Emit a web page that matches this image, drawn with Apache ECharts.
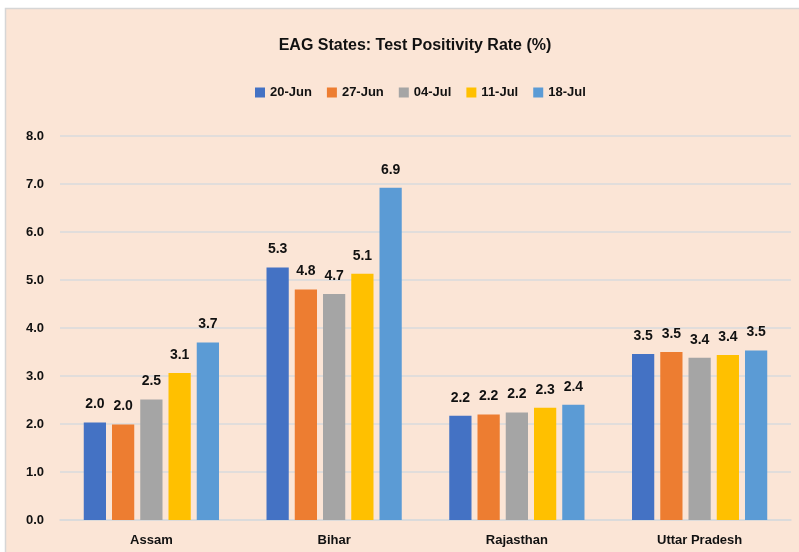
<!DOCTYPE html>
<html>
<head>
<meta charset="utf-8">
<title>EAG States: Test Positivity Rate</title>
<script src="https://cdn.jsdelivr.net/npm/echarts@6/dist/echarts.min.js"></script>
<style>
  html, body { margin: 0; padding: 0; background: #ffffff; }
  #main { width: 799px; height: 552px; }
</style>
</head>
<body>
<div id="main"></div>
<script>
// data
var states = ['Assam', 'Bihar', 'Rajasthan', 'Uttar Pradesh'];
var weeks = ['20-Jun', '27-Jun', '04-Jul', '11-Jul', '18-Jul'];
var jun20 = [2.03, 5.26, 2.17, 3.46];
var jun27 = [1.99, 4.80, 2.20, 3.50];
var jul04 = [2.51, 4.71, 2.24, 3.38];
var jul11 = [3.06, 5.13, 2.34, 3.44];
var jul18 = [3.70, 6.92, 2.40, 3.53];
var yTicks = [0, 8, 1]; // min, max, interval

var colors = ['#4472C4', '#ED7D31', '#A5A5A5', '#FFC000', '#5B9BD5'];
var font = '"Liberation Sans", Arial, sans-serif';

var chart = echarts.init(document.getElementById('main'), null, { renderer: 'canvas' });

// one bar series per week
var seriesData = [jun20, jun27, jul04, jul11, jul18];
var series = seriesData.map(function (vals, i) {
  return {
    name: weeks[i],
    type: 'bar',
    data: vals,
    barGap: '27%',
    barCategoryGap: '26%',
    itemStyle: { color: colors[i] },
    label: {
      show: true,
      position: 'top',
      distance: 11,
      color: '#111',
      fontFamily: font,
      fontWeight: 'bold',
      fontSize: 14,
      formatter: function (p) { return p.value.toFixed(1); }
    }
  };
});

var option = {
  backgroundColor: '#ffffff',
  animation: false,
  color: colors,
  graphic: [{
    type: 'rect',
    z: -10,
    silent: true,
    shape: { x: 5.5, y: 8.5, width: 800, height: 560 },
    style: { fill: '#FBE5D6', stroke: '#D6D6D6', lineWidth: 1.5 }
  }],
  title: {
    text: 'EAG States: Test Positivity Rate (%)',
    left: 410,
    textAlign: 'center',
    top: 33,
    textStyle: { fontFamily: font, fontWeight: 'bold', fontSize: 16, color: '#111' }
  },
  legend: {
    data: weeks,
    top: 81,
    left: 250,
    itemWidth: 10,
    itemHeight: 10,
    itemGap: 15,
    icon: 'rect',
    textStyle: { fontFamily: font, fontWeight: 'bold', fontSize: 13, color: '#111' }
  },
  grid: { left: 60, right: 8, top: 136, bottom: 32, containLabel: false },
  xAxis: {
    type: 'category',
    data: states,
    axisTick: { show: false },
    axisLine: { lineStyle: { color: '#D9DADC', width: 1.5 } },
    axisLabel: { margin: 14, fontFamily: font, fontWeight: 'bold', fontSize: 13, color: '#111' }
  },
  yAxis: {
    type: 'value',
    min: yTicks[0],
    max: yTicks[1],
    interval: yTicks[2],
    axisLine: { show: false },
    axisTick: { show: false },
    splitLine: { lineStyle: { color: '#D9DADC', width: 1.5 } },
    axisLabel: {
      margin: 16,
      fontFamily: font, fontWeight: 'bold', fontSize: 13, color: '#111',
      formatter: function (v) { return v.toFixed(1); }
    }
  },
  series: series
};

chart.setOption(option);
</script>
</body>
</html>
